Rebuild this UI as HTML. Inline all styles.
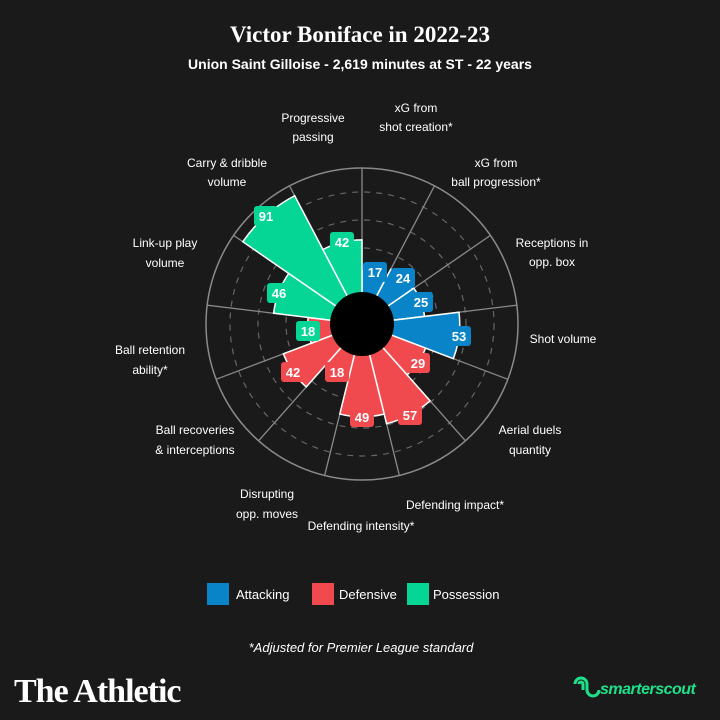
<!DOCTYPE html>
<html><head><meta charset="utf-8"><style>
html,body{margin:0;padding:0;background:#1a1a1a;}
svg{display:block}
text{font-family:"Liberation Sans",sans-serif;fill:#fff}
</style></head><body>
<svg id="s" width="720" height="720" viewBox="0 0 720 720">
<rect width="720" height="720" fill="#1a1a1a"/>
<text x="360" y="42" text-anchor="middle" font-family="Liberation Serif" font-weight="bold" font-size="23" style="font-family:'Liberation Serif',serif">Victor Boniface in 2022-23</text>
<text x="360" y="69" text-anchor="middle" font-weight="bold" font-size="14">Union Saint Gilloise - 2,619 minutes at ST - 22 years</text>
<g id="chart"></g>
<g font-size="12" text-anchor="middle">
<text x="313" y="122">Progressive</text><text x="313" y="141">passing</text>
<text x="416" y="112">xG from</text><text x="416" y="131">shot creation*</text>
<text x="496" y="167">xG from</text><text x="496" y="186">ball progression*</text>
<text x="552" y="247">Receptions in</text><text x="552" y="266">opp. box</text>
<text x="563" y="343">Shot volume</text>
<text x="530" y="434">Aerial duels</text><text x="530" y="454">quantity</text>
<text x="455" y="509">Defending impact*</text>
<text x="361" y="530">Defending intensity*</text>
<text x="267" y="498">Disrupting</text><text x="267" y="518">opp. moves</text>
<text x="195" y="434">Ball recoveries</text><text x="195" y="454">&amp; interceptions</text>
<text x="150" y="354">Ball retention</text><text x="150" y="374">ability*</text>
<text x="165" y="247">Link-up play</text><text x="165" y="267">volume</text>
<text x="227" y="167">Carry &amp; dribble</text><text x="227" y="186">volume</text>
</g>
<g id="labels" font-size="13" font-weight="bold" text-anchor="middle">
<g fill="#0a84c8"><rect x="363" y="262" width="24" height="20" rx="3"/><rect x="391" y="268" width="24" height="20" rx="3"/><rect x="409" y="292" width="24" height="20" rx="3"/><rect x="447" y="326" width="24" height="20" rx="3"/></g>
<g fill="#f04a4f"><rect x="406" y="353" width="24" height="20" rx="3"/><rect x="398" y="405" width="24" height="20" rx="3"/><rect x="350" y="407" width="24" height="20" rx="3"/><rect x="325" y="362" width="24" height="20" rx="3"/><rect x="281" y="362" width="24" height="20" rx="3"/></g>
<g fill="#05d696"><rect x="296" y="321" width="24" height="20" rx="3"/><rect x="267" y="283" width="24" height="20" rx="3"/><rect x="254" y="206" width="24" height="20" rx="3"/><rect x="330" y="232" width="24" height="20" rx="3"/></g>
<g style="fill:#dbeef8">
<text x="375" y="277">17</text><text x="403" y="283">24</text><text x="421" y="307">25</text><text x="459" y="341">53</text>
</g>
<g style="fill:#fde0e0">
<text x="418" y="368">29</text><text x="410" y="420">57</text><text x="362" y="422">49</text><text x="337" y="377">18</text><text x="293" y="377">42</text>
</g>
<g style="fill:#e0fbf1">
<text x="308" y="336">18</text><text x="279" y="298">46</text><text x="266" y="221">91</text><text x="342" y="247">42</text>
</g>
</g>
<rect x="207" y="583" width="22" height="22" fill="#0a84c8"/><text x="236" y="599" font-size="13">Attacking</text>
<rect x="312" y="583" width="22" height="22" fill="#f04a4f"/><text x="339" y="599" font-size="13">Defensive</text>
<rect x="407" y="583" width="22" height="22" fill="#05d696"/><text x="433" y="599" font-size="13">Possession</text>
<text x="361" y="652" text-anchor="middle" font-size="13" font-style="italic">*Adjusted for Premier League standard</text>
<text x="14" y="702" font-size="34" font-weight="bold" style="font-family:'Liberation Serif',serif" letter-spacing="-1">The Athletic</text>
<g fill="none" stroke="#1fe08a" stroke-width="3"><path d="M575 684 a6 6 0 0 1 12 0 v6 a6 6 0 0 0 12 0"/><path d="M579 684 a2 2 0 0 1 4 0 v6"/></g>
<text x="600" y="694" font-size="16" font-weight="bold" font-style="italic" style="fill:#1fe08a" letter-spacing="-0.5">smarterscout</text>
</svg>
<script>
(function(){
var cx=362,cy=324,R=156,r0=32,ns="http://www.w3.org/2000/svg",g=document.getElementById('chart');
function el(t,a){var e=document.createElementNS(ns,t);for(var k in a)e.setAttribute(k,a[k]);g.appendChild(e);return e;}
function pt(r,a){a=a*Math.PI/180;return [cx+r*Math.sin(a),cy-r*Math.cos(a)];}
el('circle',{cx:cx,cy:cy,r:R,fill:'none',stroke:'#8a8a8a','stroke-width':1.5});
[76,104,132].forEach(function(r){el('circle',{cx:cx,cy:cy,r:r,fill:'none',stroke:'#666','stroke-width':1.2,'stroke-dasharray':'6 6'});});
var s=360/13;
for(var i=0;i<13;i++){var p=pt(R,i*s);el('line',{x1:cx,y1:cy,x2:p[0],y2:p[1],stroke:'#8a8a8a','stroke-width':1.3});}
var v=[17,24,25,53,29,57,49,18,42,18,46,91,42];
var c=['#0a84c8','#0a84c8','#0a84c8','#0a84c8','#f04a4f','#f04a4f','#f04a4f','#f04a4f','#f04a4f','#f04a4f','#05d696','#05d696','#05d696'];
for(var i=0;i<13;i++){var r=r0+v[i]*1.24,a1=i*s,a2=(i+1)*s,p1=pt(r,a1),p2=pt(r,a2);
el('path',{d:'M'+cx+' '+cy+'L'+p1[0]+' '+p1[1]+'A'+r+' '+r+' 0 0 1 '+p2[0]+' '+p2[1]+'Z',fill:c[i],stroke:'#fff','stroke-width':1.5});}
el('circle',{cx:cx,cy:cy,r:r0,fill:'#000'});
})();
</script>
</body></html>
